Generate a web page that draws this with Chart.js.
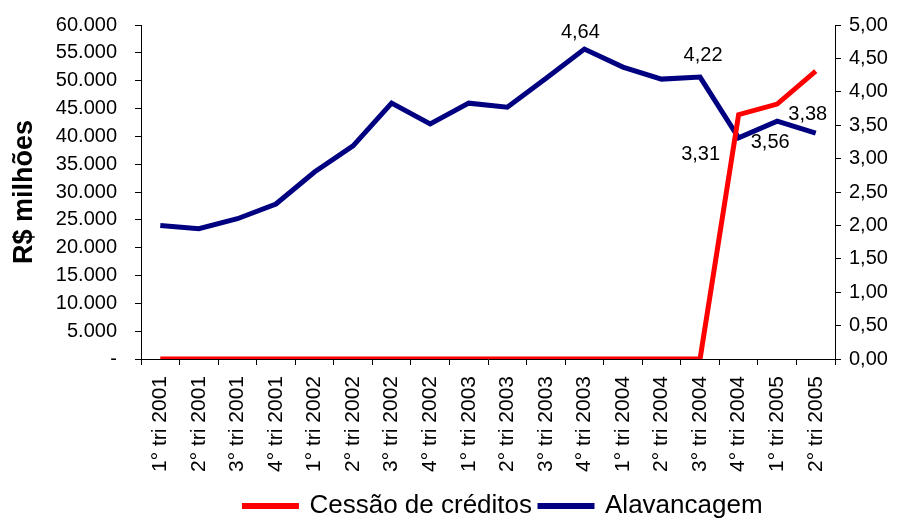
<!DOCTYPE html>
<html>
<head>
<meta charset="utf-8">
<script src="https://cdn.jsdelivr.net/npm/chart.js@4"></script>
<style>
  html, body { margin: 0; padding: 0; background: #fff; }
  #wrap { width: 897px; height: 520px; }
</style>
</head>
<body>
<div id="wrap"><canvas id="chartCanvas" width="897" height="520"></canvas></div>
<script>
// Trimestres
const categories = [
    '1° tri 2001', '2° tri 2001', '3° tri 2001', '4° tri 2001',
    '1° tri 2002', '2° tri 2002', '3° tri 2002', '4° tri 2002',
    '1° tri 2003', '2° tri 2003', '3° tri 2003', '4° tri 2003',
    '1° tri 2004', '2° tri 2004', '3° tri 2004', '4° tri 2004',
    '1° tri 2005', '2° tri 2005'
];

// Cessão de créditos (R$ milhões, eixo esquerdo)
const cessaoCreditos = [0, 0, 0, 0, 0, 0, 0, 0, 0, 0, 0, 0, 0, 0, 0, 43900, 45800, 51700];

// Alavancagem (eixo direito)
const alavancagem = [2.00, 1.95, 2.10, 2.32, 2.80, 3.19, 3.83, 3.52, 3.83, 3.77, 4.20, 4.64, 4.37, 4.19, 4.22, 3.31, 3.56, 3.38];

// Rótulos visíveis na série Alavancagem: índice -> deslocamento do texto
const labelIndexes = [11, 14, 15, 16, 17];
const labelOffsets = {
    11: [-4, -17],
    14: [3, -22],
    15: [-38, 17],
    16: [-7, 21],
    17: [-8, -19]
};

const leftTicks = { min: 0, max: 60000, step: 5000 };
const rightTicks = { min: 0, max: 5, step: 0.5 };

const fontFamily = '"Liberation Sans", Arial, sans-serif';

function formatMilhar(v) {
    if (v === 0) return '-';
    return v.toLocaleString('de-DE');
}

function formatDecimal(v) {
    return v.toFixed(2).replace('.', ',');
}

// Plugin simples para escrever os valores de alavancagem
const valueLabels = {
    id: 'valueLabels',
    afterDatasetsDraw(chart) {
        const ctx = chart.ctx;
        const meta = chart.getDatasetMeta(1);
        ctx.save();
        ctx.fillStyle = '#000';
        ctx.font = '20px ' + fontFamily;
        ctx.textAlign = 'center';
        ctx.textBaseline = 'middle';
        labelIndexes.forEach(function(i) {
            const pt = meta.data[i];
            const off = labelOffsets[i];
            ctx.fillText(formatDecimal(alavancagem[i]), pt.x + off[0], pt.y + off[1]);
        });
        ctx.restore();
    }
};

// A legenda do original fica um pouco à direita do centro
const legendShift = {
    id: 'legendShift',
    afterLayout(chart) {
        chart.legend.left += 55;
        chart.legend.right += 55;
    }
};

function noVerticalPadding(scale) {
    scale.paddingTop = 0;
    scale.paddingBottom = 0;
}

const ctx = document.getElementById('chartCanvas').getContext('2d');

new Chart(ctx, {
    type: 'line',
    data: {
        labels: categories,
        datasets: [
            {
                label: 'Cessão de créditos',
                data: cessaoCreditos,
                borderColor: '#FF0000',
                backgroundColor: '#FF0000',
                borderWidth: 5,
                pointRadius: 0,
                tension: 0,
                yAxisID: 'y'
            },
            {
                label: 'Alavancagem',
                data: alavancagem,
                borderColor: '#000080',
                backgroundColor: '#000080',
                borderWidth: 5,
                pointRadius: 0,
                tension: 0,
                yAxisID: 'y1'
            }
        ]
    },
    options: {
        responsive: false,
        animation: false,
        layout: {
            padding: { top: 25, left: 0, right: 0, bottom: -9 }
        },
        plugins: {
            legend: {
                position: 'bottom',
                labels: {
                    color: '#000',
                    boxWidth: 52,
                    boxHeight: 1,
                    padding: 8,
                    font: { size: 26, family: fontFamily }
                }
            },
            tooltip: { enabled: false }
        },
        scales: {
            x: {
                offset: true,
                grid: {
                    offset: true,
                    drawOnChartArea: false,
                    drawTicks: true,
                    tickLength: 6,
                    color: '#000'
                },
                border: { color: '#000', width: 1 },
                ticks: {
                    color: '#000',
                    minRotation: 90,
                    maxRotation: 90,
                    autoSkip: false,
                    padding: 11,
                    font: { size: 21, family: fontFamily }
                },
                afterFit: function(scale) { scale.height = 126; }
            },
            y: {
                position: 'left',
                min: leftTicks.min,
                max: leftTicks.max,
                grid: {
                    drawOnChartArea: false,
                    drawTicks: true,
                    tickLength: 6,
                    color: '#000'
                },
                border: { color: '#000', width: 1 },
                ticks: {
                    stepSize: leftTicks.step,
                    color: '#000',
                    padding: 18,
                    font: { size: 20, family: fontFamily },
                    callback: function(v) { return formatMilhar(v); }
                },
                title: {
                    display: true,
                    text: 'R$ milhões',
                    color: '#000',
                    padding: { top: 8, bottom: 0 },
                    font: { size: 27, weight: 'bold', family: fontFamily }
                },
                afterFit: function(scale) {
                    scale.width = 141;
                    noVerticalPadding(scale);
                }
            },
            y1: {
                position: 'right',
                min: rightTicks.min,
                max: rightTicks.max,
                grid: {
                    drawOnChartArea: false,
                    drawTicks: true,
                    tickLength: 6,
                    color: '#000'
                },
                border: { color: '#000', width: 1 },
                ticks: {
                    stepSize: rightTicks.step,
                    color: '#000',
                    padding: 8,
                    font: { size: 20, family: fontFamily },
                    callback: function(v) { return formatDecimal(v); }
                },
                afterFit: function(scale) {
                    scale.width = 62;
                    noVerticalPadding(scale);
                }
            }
        }
    },
    plugins: [valueLabels, legendShift]
});
</script>
</body>
</html>
